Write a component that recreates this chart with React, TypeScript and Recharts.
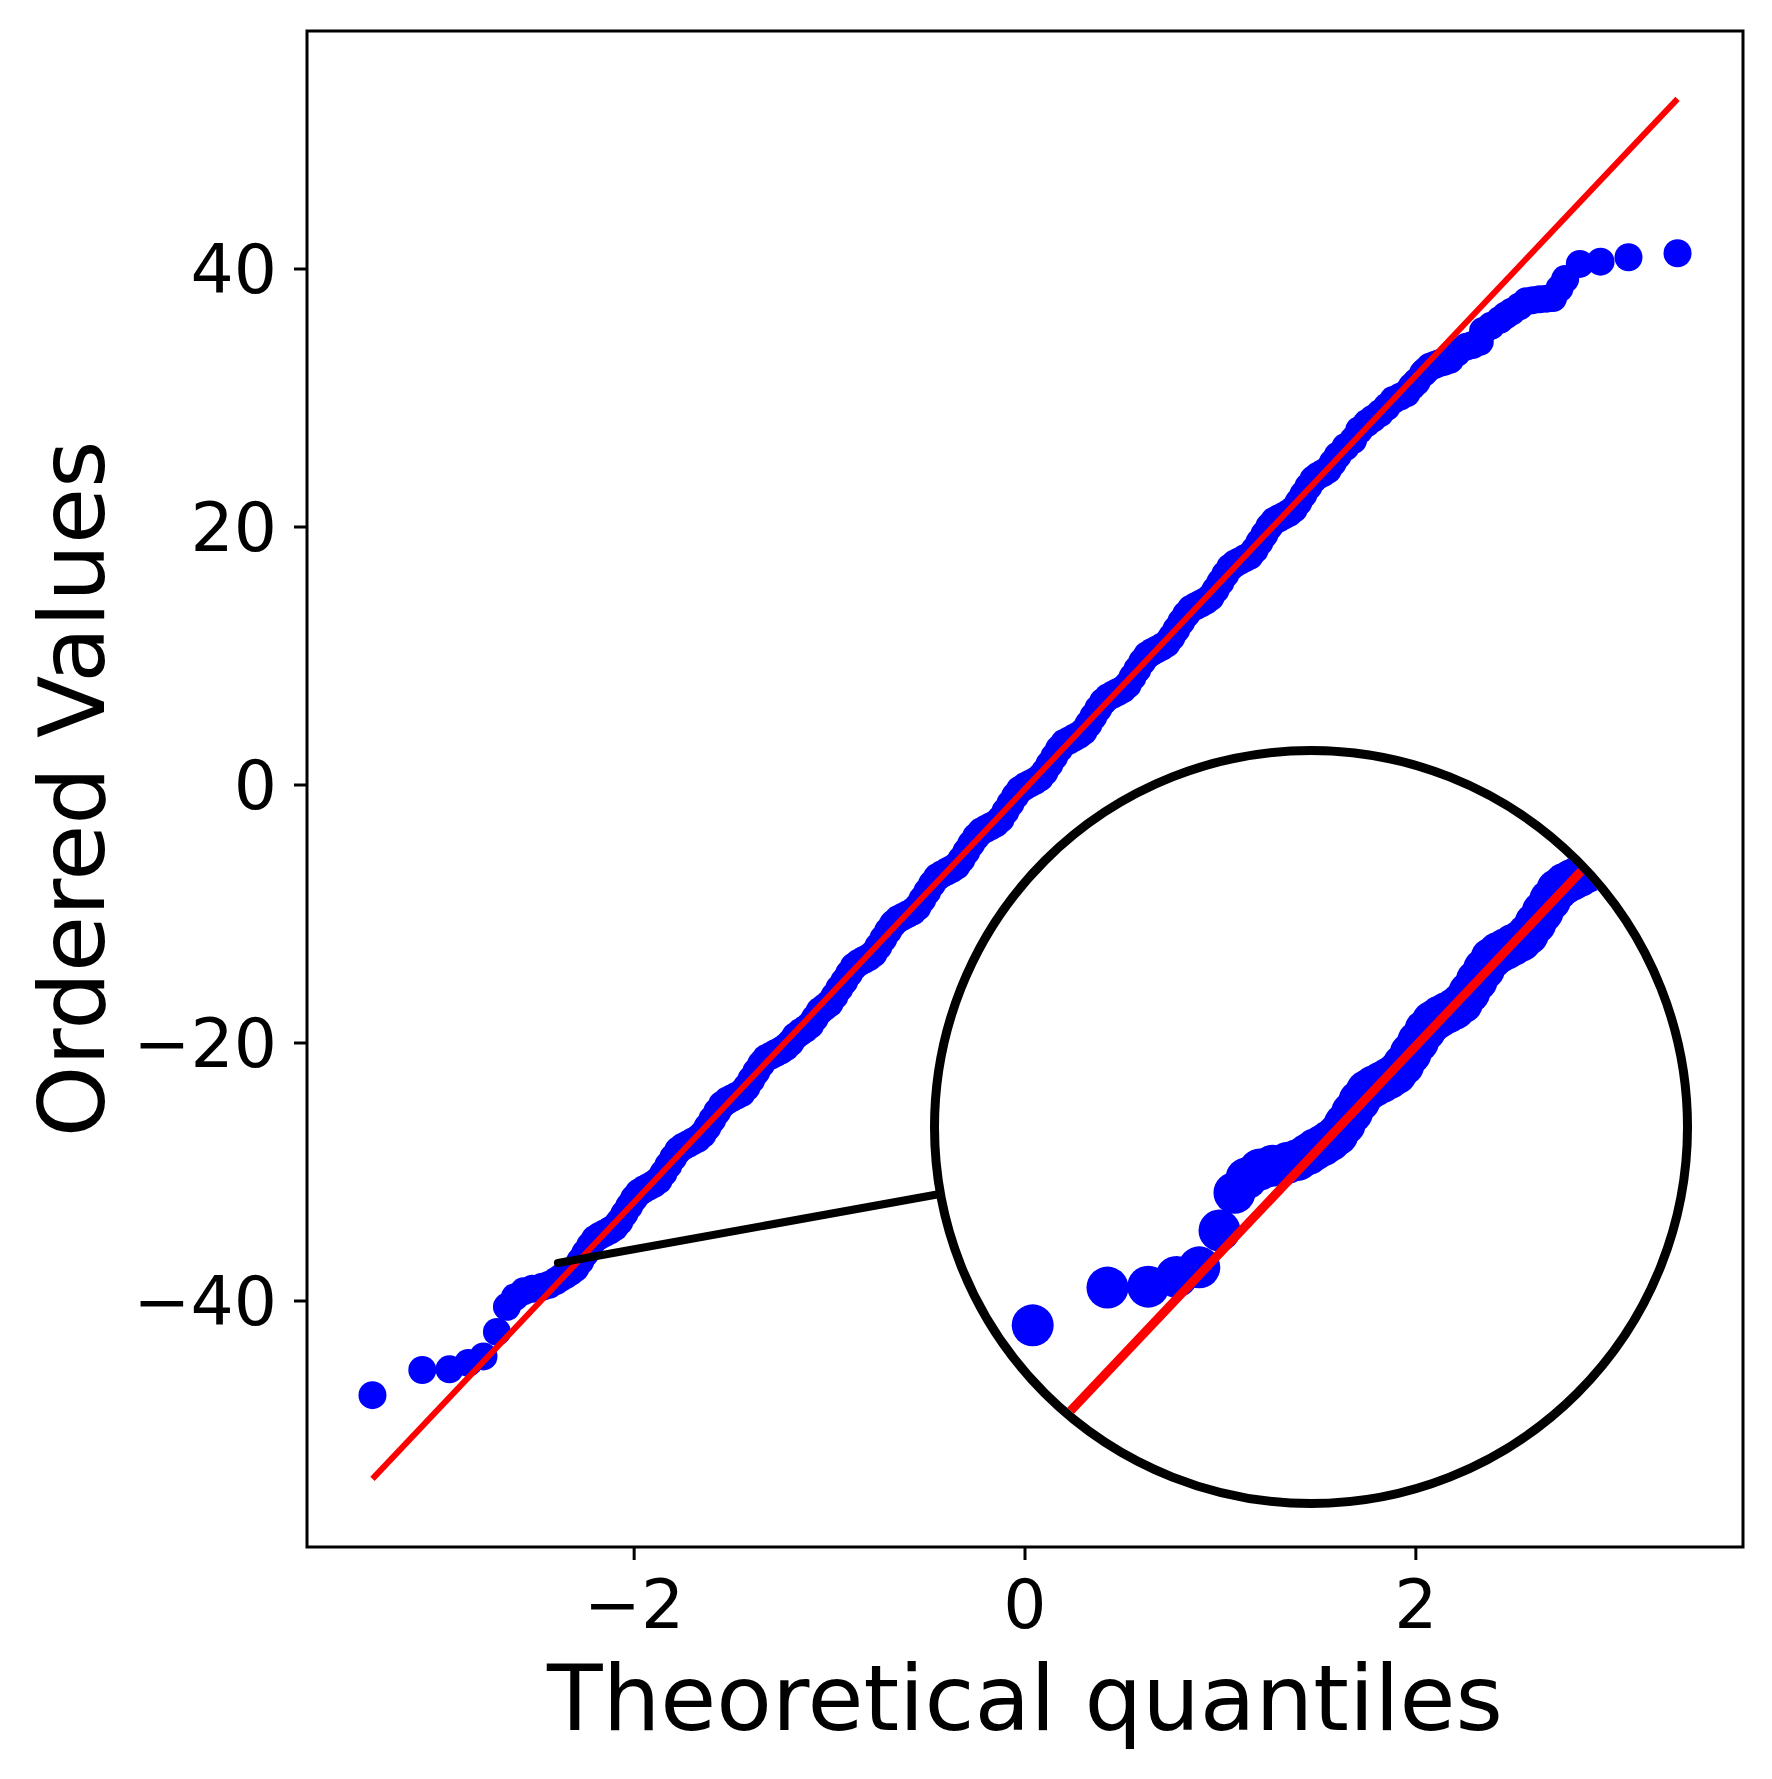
import React from 'react';
import { ScatterChart, Scatter, XAxis, YAxis, ReferenceArea } from 'recharts';

// theoretical quantiles and the ordered sample values
const quantiles = [
  -3.339, -3.084, -2.945, -2.849, -2.771, -2.702, -2.651, -2.61, -2.565, -2.52, -2.47, -2.435,
  -2.4, -2.375, -2.35, -2.325, -2.3, -2.275, -2.25, -2.225, -2.2, -2.175,
  -2.15, -2.125, -2.1, -2.075, -2.05, -2.025, -2.0, -1.975, -1.95, -1.925,
  -1.9, -1.875, -1.85, -1.825, -1.8, -1.775, -1.75, -1.725, -1.7, -1.675,
  -1.65, -1.625, -1.6, -1.575, -1.55, -1.525, -1.5, -1.475, -1.45, -1.425,
  -1.4, -1.375, -1.35, -1.325, -1.3, -1.275, -1.25, -1.225, -1.2, -1.175,
  -1.15, -1.125, -1.1, -1.075, -1.05, -1.025, -1.0, -0.975, -0.95, -0.925,
  -0.9, -0.875, -0.85, -0.825, -0.8, -0.775, -0.75, -0.725, -0.7, -0.675,
  -0.65, -0.625, -0.6, -0.575, -0.55, -0.525, -0.5, -0.475, -0.45, -0.425,
  -0.4, -0.375, -0.35, -0.325, -0.3, -0.275, -0.25, -0.225, -0.2, -0.175,
  -0.15, -0.125, -0.1, -0.075, -0.05, -0.025, 0.0, 0.025, 0.05, 0.075,
  0.1, 0.125, 0.15, 0.175, 0.2, 0.225, 0.25, 0.275, 0.3, 0.325,
  0.35, 0.375, 0.4, 0.425, 0.45, 0.475, 0.5, 0.525, 0.55, 0.575,
  0.6, 0.625, 0.65, 0.675, 0.7, 0.725, 0.75, 0.775, 0.8, 0.825,
  0.85, 0.875, 0.9, 0.925, 0.95, 0.975, 1.0, 1.025, 1.05, 1.075,
  1.1, 1.125, 1.15, 1.175, 1.2, 1.225, 1.25, 1.275, 1.3, 1.325,
  1.35, 1.375, 1.4, 1.425, 1.45, 1.475, 1.5, 1.525, 1.55, 1.575, 1.6,
  1.64, 1.679, 1.71, 1.748, 1.78, 1.816, 1.85, 1.884, 1.92, 1.952,
  1.98, 2.004, 2.037, 2.05, 2.072, 2.095, 2.12, 2.145, 2.174, 2.21,
  2.259, 2.29, 2.327, 2.344, 2.385, 2.43, 2.46, 2.49, 2.53, 2.566,
  2.6, 2.634, 2.67, 2.702, 2.735, 2.764, 2.839, 2.945, 3.088, 3.339,
];
const orderedValues = [
  -47.3, -45.35, -45.3, -44.8, -44.3, -42.4, -40.45, -39.7, -39.25, -39.05, -38.9, -38.75,
  -38.45, -38.2, -38.0, -37.75, -37.45, -36.9, -36.3, -35.7, -35.19, -34.94,
  -34.74, -34.54, -34.29, -33.84, -33.24, -32.64, -32.04, -31.59, -31.34, -31.14,
  -30.94, -30.64, -30.09, -29.49, -28.89, -28.34, -28.04, -27.84, -27.63, -27.43,
  -27.08, -26.53, -25.93, -25.33, -24.78, -24.48, -24.28, -24.08, -23.88, -23.43,
  -22.83, -22.23, -21.63, -21.18, -20.98, -20.78, -20.58, -20.33, -19.97, -19.47,
  -19.17, -18.92, -18.62, -18.07, -17.52, -17.22, -16.92, -16.37, -15.77, -15.22,
  -14.62, -14.07, -13.77, -13.57, -13.37, -13.07, -12.52, -11.92, -11.31, -10.76,
  -10.41, -10.21, -10.01, -9.81, -9.46, -8.86, -8.26, -7.66, -7.16, -6.91,
  -6.71, -6.51, -6.26, -5.76, -5.16, -4.56, -4.01, -3.61, -3.4, -3.2,
  -3.0, -2.65, -2.05, -1.45, -0.85, -0.35, -0.1, 0.1, 0.3, 0.55,
  1.0, 1.6, 2.2, 2.8, 3.25, 3.45, 3.66, 3.86, 4.16, 4.71,
  5.31, 5.91, 6.46, 6.81, 7.01, 7.21, 7.41, 7.76, 8.36, 8.96,
  9.56, 10.06, 10.31, 10.51, 10.71, 10.96, 11.47, 12.07, 12.67, 13.22,
  13.67, 13.87, 14.07, 14.27, 14.57, 15.12, 15.72, 16.32, 16.87, 17.17,
  17.37, 17.57, 17.77, 18.22, 18.82, 19.42, 20.03, 20.48, 20.68, 20.88,
  21.08, 21.38, 21.93, 22.53, 23.13, 23.68, 23.98, 24.18, 24.43, 24.98, 25.53,
  26.2, 26.74, 27.5, 28.04, 28.4, 28.81, 29.3, 29.84, 30.1, 30.36,
  30.9, 31.26, 31.91, 32.1, 32.43, 32.55, 32.7, 32.8, 32.95, 33.5,
  33.98, 34.1, 34.36, 35.2, 35.6, 36.05, 36.4, 36.69, 37.1, 37.5,
  37.58, 37.65, 37.7, 37.75, 38.5, 39.22, 40.39, 40.57, 40.91, 41.22,
];

// least squares fit line, at the two end quantiles
const fitX = [-3.339, 3.339];
const fitY = [-53.79, 53.19];

const xTicks = [-2, 0, 2];
const yTicks = [-40, -20, 0, 20, 40];
const xLimits = [-3.674, 3.674];
const yLimits = [-59.07, 58.45];

// magnifier: spot it looks at, where the glass sits, and the 1.5x window
const lensSpot = { x: -2.39, y: -37.05 };
const glassSpot = { x: 1.463, y: -26.51 };
const zoomX = [-3.6585, -1.1215];
const zoomY = [-56.275, -17.825];

const points = quantiles.map((x, i) => ({ x, y: orderedValues[i] }));
const fitLine = fitX.map((x, i) => ({ x, y: fitY[i] }));
const connector = [lensSpot, glassSpot];

const FONT = 'DejaVu Sans';
const minus = (v: number) => String(v).replace('-', '\u2212');

const XTick = (props: any) => {
  const { x, y, payload } = props;
  return (
    <text x={x} y={y + 68} textAnchor="middle" fontFamily={FONT} fontSize={68} fill="#000">
      {minus(payload.value)}
    </text>
  );
};

const YTick = (props: any) => {
  const { x, y, payload } = props;
  return (
    <text x={x - 17} y={y + 24} textAnchor="end" fontFamily={FONT} fontSize={68} fill="#000">
      {minus(payload.value)}
    </text>
  );
};

const dot = (r: number) => (p: any) => <circle cx={p.cx} cy={p.cy} r={r} fill="#0000ff" />;
const noDot = () => <g />;

export default function App() {
  return (
    <div style={{ position: 'relative', width: 1756, height: 1763, background: '#fff' }}>
      <ScatterChart width={1756} height={1763} margin={{ top: 23, right: 21, left: 0, bottom: 0 }}>
        <XAxis
          type="number"
          dataKey="x"
          domain={xLimits}
          ticks={xTicks}
          interval={0}
          allowDataOverflow
          axisLine={false}
          stroke="#000"
          tickLine={{ stroke: '#000', strokeWidth: 3 }}
          tickSize={13}
          tickMargin={0}
          height={224}
          tick={<XTick />}
        />
        <YAxis
          type="number"
          dataKey="y"
          domain={yLimits}
          ticks={yTicks}
          interval={0}
          allowDataOverflow
          axisLine={false}
          stroke="#000"
          tickLine={{ stroke: '#000', strokeWidth: 3 }}
          tickSize={13}
          tickMargin={0}
          width={299}
          tick={<YTick />}
        />
        <ReferenceArea
          x1={xLimits[0]}
          x2={xLimits[1]}
          y1={yLimits[0]}
          y2={yLimits[1]}
          fill="none"
          fillOpacity={0}
          stroke="#000"
          strokeWidth={3}
          ifOverflow="visible"
        />
        <Scatter data={points} shape={dot(14)} isAnimationActive={false} />
        <Scatter
          data={fitLine}
          line={{ stroke: '#ff0000', strokeWidth: 6 }}
          shape={noDot}
          isAnimationActive={false}
        />
        <Scatter
          data={connector}
          line={{ stroke: '#000', strokeWidth: 8, strokeLinecap: 'round' }}
          shape={noDot}
          isAnimationActive={false}
        />
      </ScatterChart>

      <svg
        width={1756}
        height={1763}
        style={{ position: 'absolute', left: 0, top: 0, pointerEvents: 'none' }}
      >
        <text x={1017} y={1722} textAnchor="middle" fontFamily={FONT} fontSize={91} fill="#000">
          Theoretical quantiles
        </text>
        <text
          transform="translate(96,781) rotate(-90)"
          textAnchor="middle"
          fontFamily={FONT}
          fontSize={91}
          fill="#000"
        >
          Ordered Values
        </text>
      </svg>

      <div
        style={{
          position: 'absolute',
          left: 922,
          top: 738,
          width: 762,
          height: 762,
          boxSizing: 'border-box',
          border: '9px solid #000',
          borderRadius: '50%',
          overflow: 'hidden',
          background: '#fff',
        }}
      >
        <ScatterChart width={744} height={744} margin={{ top: 0, right: 0, bottom: 0, left: 0 }}>
          <XAxis type="number" dataKey="x" domain={zoomX} allowDataOverflow hide />
          <YAxis type="number" dataKey="y" domain={zoomY} allowDataOverflow hide />
          <Scatter data={points} shape={dot(21)} isAnimationActive={false} />
          <Scatter
            data={fitLine}
            line={{ stroke: '#ff0000', strokeWidth: 9 }}
            shape={noDot}
            isAnimationActive={false}
          />
        </ScatterChart>
      </div>
    </div>
  );
}
